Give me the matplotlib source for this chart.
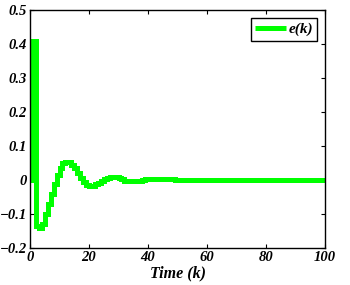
import matplotlib

matplotlib.use("Agg")
import matplotlib.pyplot as plt

# error signal e(k), k = 0..100
e_head = [
    0.0, 0.41, -0.135, -0.14, -0.13, -0.10, -0.07, -0.04, -0.012, 0.015,
    0.035, 0.05, 0.054, 0.052, 0.045, 0.035, 0.02, 0.006, -0.006, -0.015,
    -0.018, -0.017, -0.013, -0.008, -0.002, 0.004, 0.007, 0.008, 0.008, 0.008,
    0.006, 0.002, -0.002, -0.003, -0.003, -0.003, -0.003, -0.003, 0.001, 0.002,
    0.002, 0.002, 0.002, 0.002, 0.002, 0.002, 0.002, 0.002, 0.002, 0.001,
]
e_tail = [0.0] * 51
e = e_head + e_tail
k = list(range(len(e)))

xticks = [0, 20, 40, 60, 80, 100]
yticks = [-0.2, -0.1, 0, 0.1, 0.2, 0.3, 0.4, 0.5]
ytick_labels = ["\u22120.2", "\u22120.1", "0", "0.1", "0.2", "0.3", "0.4", "0.5"]

font = dict(family="Liberation Serif", weight="bold", style="italic")

fig = plt.figure(figsize=(3.5, 2.85), dpi=100)
ax = fig.add_axes([0.0857, 0.13, 0.843, 0.835])

ax.step(k, e, where="post", color="#00ff00", linewidth=3.6, label="e(k)",
        solid_joinstyle="miter", solid_capstyle="butt")

ax.set_xlim(0, 100)
ax.set_ylim(-0.2, 0.5)
ax.set_xticks(xticks)
ax.set_xticklabels([str(t) for t in xticks], **font, fontsize=10.5)
ax.set_yticks(yticks)
ax.set_yticklabels(ytick_labels, **font, fontsize=10.5)
ax.tick_params(direction="in", top=True, right=True, length=3, width=0.8, pad=2)
for s in ax.spines.values():
    s.set_linewidth(1.0)

ax.set_xlabel("Time (k)", **font, fontsize=11.5, labelpad=1.5)

leg = ax.legend(
    loc="upper right",
    prop=dict(family="Liberation Serif", weight="bold", style="italic", size=11),
    fancybox=False,
    edgecolor="black",
    framealpha=1,
    handlelength=2.0,
    handletextpad=0.15,
    borderpad=0.3,
    borderaxespad=0.5,
)
leg.get_frame().set_linewidth(1.0)

fig.savefig("out.png", dpi=100)
